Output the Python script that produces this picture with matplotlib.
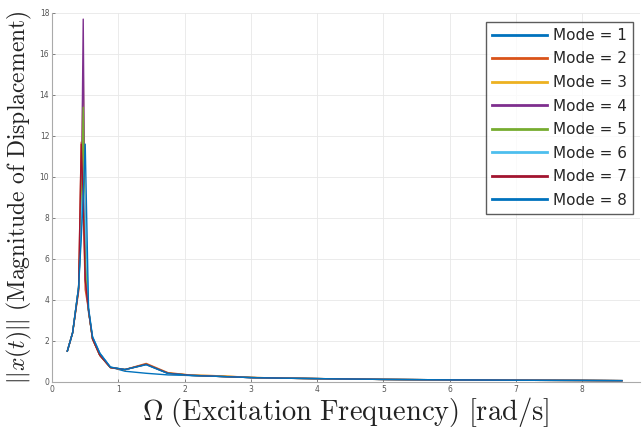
import numpy as np
import matplotlib.pyplot as plt

plt.rcParams["mathtext.fontset"] = "cm"

# Excitation frequencies (rad/s)
omega = [0.23, 0.31, 0.40, 0.44, 0.47, 0.50, 0.55, 0.61, 0.72, 0.88, 1.10,
         1.42, 1.75, 2.10, 2.50, 3.00, 3.50, 4.00, 5.00, 6.00, 7.00, 8.00, 8.60]

# Common tail of the response beyond the main resonance
tail = [0.27, 0.21, 0.18, 0.16, 0.12, 0.10, 0.08, 0.07, 0.06]

mode1 = [1.50, 2.40, 4.60, 7.50, 9.50, 6.00, 3.40, 2.20, 1.40, 0.72, 0.52,
         0.42, 0.34, 0.31] + tail
mode2 = [1.50, 2.40, 4.40, 11.70, 8.50, 4.50, 3.50, 2.10, 1.30, 0.70, 0.60,
         0.90, 0.45, 0.33, 0.30, 0.22, 0.18, 0.16, 0.12, 0.10, 0.08, 0.07, 0.06]
mode3 = [1.50, 2.40, 4.50, 9.00, 15.40, 5.00, 3.50, 2.10, 1.30, 0.70, 0.60,
         0.87, 0.43, 0.33, 0.30, 0.22, 0.18, 0.16, 0.12, 0.10, 0.08, 0.07, 0.06]
mode4 = [1.50, 2.40, 4.60, 8.00, 17.70, 5.00, 3.50, 2.10, 1.30, 0.70, 0.60,
         0.86, 0.42, 0.32] + tail
mode5 = [1.50, 2.40, 4.60, 8.00, 13.40, 6.00, 3.50, 2.10, 1.30, 0.70, 0.60,
         0.86, 0.42, 0.32] + tail
mode6 = [1.50, 2.40, 4.60, 8.00, 9.80, 8.00, 3.60, 2.20, 1.40, 0.72, 0.60,
         0.84, 0.41, 0.32] + tail
mode7 = [1.50, 2.40, 4.50, 11.60, 9.00, 5.00, 3.50, 2.10, 1.30, 0.70, 0.60,
         0.86, 0.42, 0.32] + tail
mode8 = [1.50, 2.40, 4.60, 7.00, 9.00, 11.60, 3.60, 2.20, 1.40, 0.72, 0.60,
         0.84, 0.41, 0.31] + tail

modes = [mode1, mode2, mode3, mode4, mode5, mode6, mode7, mode8]
labels = [f"Mode = {k}" for k in range(1, 9)]
colors = ["#0072BD", "#D95319", "#EDB120", "#7E2F8E",
          "#77AC30", "#4DBEEE", "#A2142F", "#0072BD"]

fig = plt.figure(figsize=(6.43, 4.32), dpi=100)
ax = fig.add_axes([0.081, 0.116, 0.914, 0.854])

for y, c, lab in zip(modes, colors, labels):
    ax.plot(omega, y, color=c, lw=1.0, label=lab)

ax.set_xlim(0, 8.87)
ax.set_ylim(0, 18)
ax.set_xticks(np.arange(0, 9, 1))
ax.set_yticks(np.arange(0, 19, 2))
ax.tick_params(labelsize=5.5, colors="#555555", length=2.5, width=0.5,
               direction="in", pad=2)
ax.grid(True, color="#e8e8e8", lw=0.6)
ax.set_axisbelow(True)
for s in ["top", "right"]:
    ax.spines[s].set_visible(False)
for s in ["left", "bottom"]:
    ax.spines[s].set_color("#aaaaaa")
    ax.spines[s].set_linewidth(0.8)

ax.set_xlabel(r"$\Omega\ \mathrm{(Excitation\ Frequency)\ [rad/s]}$",
              fontsize=20.5, color="#222222", labelpad=1)
ax.set_ylabel(r"$||x(t)||\ \mathrm{(Magnitude\ of\ Displacement)}$",
              fontsize=17, color="#222222", labelpad=4)

leg = ax.legend(loc="upper right", fontsize=11, frameon=True, fancybox=False,
                edgecolor="#333333", handlelength=3.6, handletextpad=0.35,
                labelspacing=0.56, borderpad=0.4, borderaxespad=0.0,
                bbox_to_anchor=(0.988, 0.976))
leg.get_frame().set_linewidth(1.0)
for h in leg.get_lines():
    h.set_linewidth(2.0)
for t in leg.get_texts():
    t.set_color("#262626")

fig.savefig("out.png", dpi=100)
